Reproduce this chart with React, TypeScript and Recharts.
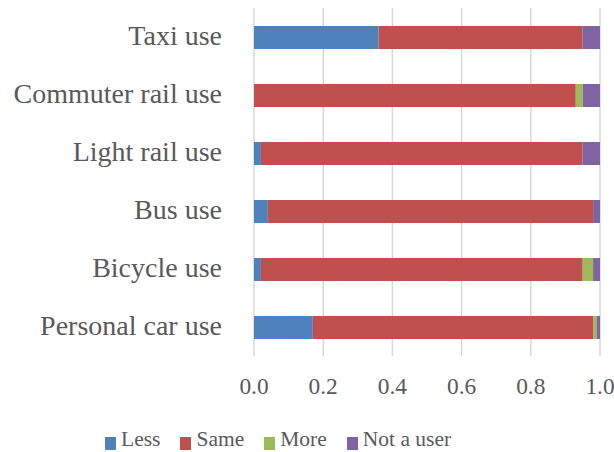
import React from "react";
import { BarChart, Bar, XAxis, YAxis, CartesianGrid, Legend } from "recharts";

// Change in use of each transport mode (shares of respondents)
const categories = [
  "Taxi use",
  "Commuter rail use",
  "Light rail use",
  "Bus use",
  "Bicycle use",
  "Personal car use",
];
const lessValues = [0.36, 0, 0.02, 0.04, 0.02, 0.17];
const sameValues = [0.59, 0.93, 0.93, 0.94, 0.93, 0.81];
const moreValues = [0, 0.02, 0, 0, 0.03, 0.01];
const notUserValues = [0.05, 0.05, 0.05, 0.02, 0.02, 0.01];
const xTicks = [0, 0.2, 0.4, 0.6, 0.8, 1.0];

const seriesNames = ["Less", "Same", "More", "Not a user"];
const seriesColors = ["#4f81bd", "#c0504d", "#9bbb59", "#8064a2"];
const seriesKeys = ["less", "same", "more", "notUser"];

const data = categories.map((name, i) => ({
  name,
  less: lessValues[i],
  same: sameValues[i],
  more: moreValues[i],
  notUser: notUserValues[i],
}));

const FONT = '"Liberation Serif", "Times New Roman", serif';
const TEXT = "#595959";

// Legend keeps the series order rather than sorting alphabetically
const LegendContent = () => (
  <div style={{ display: "flex", alignItems: "flex-end", fontFamily: FONT, fontSize: 21.5, color: TEXT, lineHeight: "22px" }}>
    {seriesNames.map((name, i) => (
      <div key={name} style={{ display: "flex", alignItems: "flex-end", marginRight: 20 }}>
        <span style={{ display: "inline-block", width: 11, height: 13, background: seriesColors[i], marginRight: 5, marginBottom: 0 }} />
        <span>{name}</span>
      </div>
    ))}
  </div>
);

export default function App() {
  return (
    <div style={{ position: "absolute", left: 0, top: 0 }}>
      <BarChart
        width={614}
        height={452}
        data={data}
        layout="vertical"
        margin={{ top: 8, right: 14, left: 0, bottom: 56 }}
        barSize={23}
      >
        <CartesianGrid horizontal={false} vertical={true} stroke="#d9d9d9" strokeWidth={1.5} />
        <XAxis
          type="number"
          domain={[0, 1]}
          ticks={xTicks}
          tickFormatter={(v: number) => v.toFixed(1)}
          axisLine={false}
          tickLine={false}
          tickSize={0}
          tickMargin={21}
          height={40}
          interval={0}
          tick={{ fill: TEXT, fontSize: 23.4, fontFamily: FONT }}
        />
        <YAxis
          type="category"
          dataKey="name"
          width={254}
          axisLine={false}
          tickLine={false}
          tickSize={0}
          tickMargin={32}
          interval={0}
          tick={{ fill: TEXT, fontSize: 28, fontFamily: FONT, dy: -2 }}
        />
        <Legend
          layout="horizontal"
          verticalAlign="middle"
          align="center"
          wrapperStyle={{ top: 428, left: 105, width: 500 }}
          content={<LegendContent />}
        />
        {seriesKeys.map((k, i) => (
          <Bar
            key={k}
            dataKey={k}
            name={seriesNames[i]}
            stackId="use"
            fill={seriesColors[i]}
            isAnimationActive={false}
          />
        ))}
      </BarChart>
    </div>
  );
}
